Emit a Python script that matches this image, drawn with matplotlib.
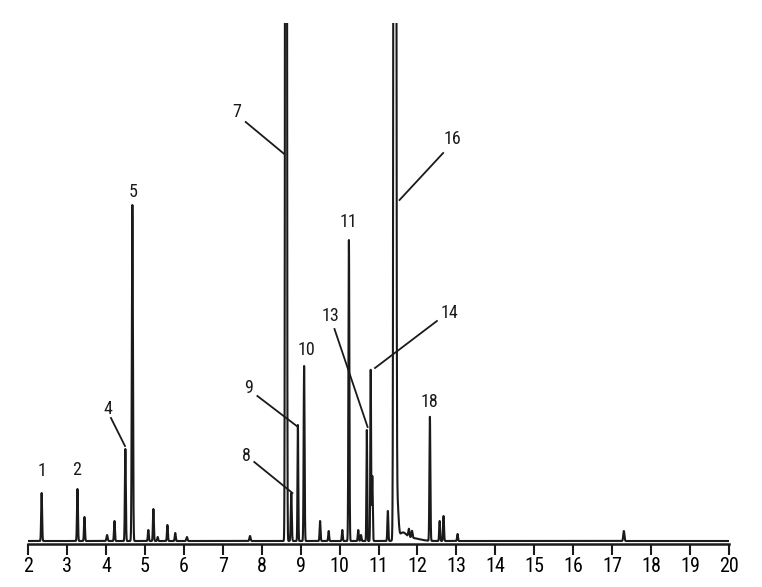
import numpy as np
import matplotlib.pyplot as plt
from matplotlib import font_manager

# Peak table (retention time in min, height, width)
retention_times = [
    2.35, 3.27, 3.45, 4.03, 4.22, 4.50, 4.68, 5.09, 5.22, 5.33,
    5.58, 5.78, 6.08, 7.70, 8.625, 8.76, 8.93, 9.09, 9.50,
    9.72, 10.07, 10.24, 10.48, 10.55, 10.70, 10.80, 10.84, 11.24, 11.42,
    11.48, 11.62, 11.85, 11.78, 11.86, 12.32, 12.57, 12.67, 13.03, 17.30
]
heights = [
    48, 52, 24, 6, 20, 92, 336, 11, 32, 4,
    16, 8, 4, 5, 4000, 48, 116, 175, 20,
    10, 11, 301, 11, 6, 111, 171, 65, 30, 6000,
    40, 7, 3, 8, 7, 124, 20, 25, 7, 10
]
widths = [
    0.012, 0.012, 0.012, 0.015, 0.012, 0.012, 0.014, 0.012, 0.012, 0.012,
    0.012, 0.012, 0.015, 0.015, 0.014, 0.013, 0.010, 0.012, 0.012,
    0.012, 0.012, 0.012, 0.012, 0.012, 0.010, 0.010, 0.012, 0.012, 0.019,
    0.030, 0.090, 0.200, 0.015, 0.015, 0.012, 0.012, 0.012, 0.012, 0.015
]

# Peak labels and their leader lines (None = no leader)
label_names = ["1", "2", "4", "5", "7", "8", "9", "10", "11", "13", "14", "16", "18"]
label_x = [2.36, 3.26, 4.05, 4.70, 7.37, 7.62, 7.66, 9.16, 10.24, 9.76, 12.81, 12.89, 12.32]
label_y = [70, 71, 132, 349, 429, 85, 153, 191, 319, 225, 228, 402, 139]
leader_x0 = [None, None, 4.13, None, 7.59, 7.81, 7.89, None, None, 9.87, 12.50, 12.66, None]
leader_y0 = [None, None, 123, None, 419, 79, 145, None, None, 212, 220, 388, None]
leader_x1 = [None, None, 4.49, None, 8.58, 8.79, 8.90, None, None, 10.72, 10.91, 11.54, None]
leader_y1 = [None, None, 95, None, 387, 48, 115, None, None, 114, 173, 341, None]

tick_values = list(range(2, 21))

# Build the trace from the peak table
t = np.linspace(2, 20, 36000)
signal = np.zeros_like(t)
for rt, h, w in zip(retention_times, heights, widths):
    signal += h * np.exp(-0.5 * ((t - rt) / w) ** 2)

# Condensed face if there is one
installed = {f.name for f in font_manager.fontManager.ttflist}
family = "Liberation Sans"
for name in ["Liberation Sans Narrow", "Roboto Condensed", "DejaVu Sans Condensed"]:
    if name in installed:
        family = name
        break
plt.rcParams["font.family"] = [family, "DejaVu Sans"]

fig = plt.figure(figsize=(7.62, 5.87), dpi=100)
ax = fig.add_axes([28 / 762, 43 / 587, 701 / 762, 521 / 587])

ax.plot(t, signal, color="#1a1a1a", linewidth=1.5)

ax.set_xlim(2, 20)
ax.set_ylim(-3, 518)

# Only the bottom axis is shown
for side in ["top", "right", "left"]:
    ax.spines[side].set_visible(False)
ax.spines["bottom"].set_linewidth(1.8)
ax.spines["bottom"].set_color("#1a1a1a")
ax.set_yticks([])
ax.set_xticks(tick_values)
ax.set_xticklabels([str(v) for v in tick_values])
ax.tick_params(
    axis="x",
    direction="out",
    length=8,
    width=1.5,
    color="#1a1a1a",
    labelsize=14.5,
    pad=1
)

# Peak numbers and leader lines
for i, name in enumerate(label_names):
    ax.text(
        label_x[i],
        label_y[i],
        name,
        ha="center",
        va="center",
        fontsize=13,
        color="#1a1a1a"
    )
    if leader_x0[i] is not None:
        ax.plot(
            [leader_x0[i], leader_x1[i]],
            [leader_y0[i], leader_y1[i]],
            color="#1a1a1a",
            linewidth=1.3
        )

fig.savefig("out.png", dpi=100)
